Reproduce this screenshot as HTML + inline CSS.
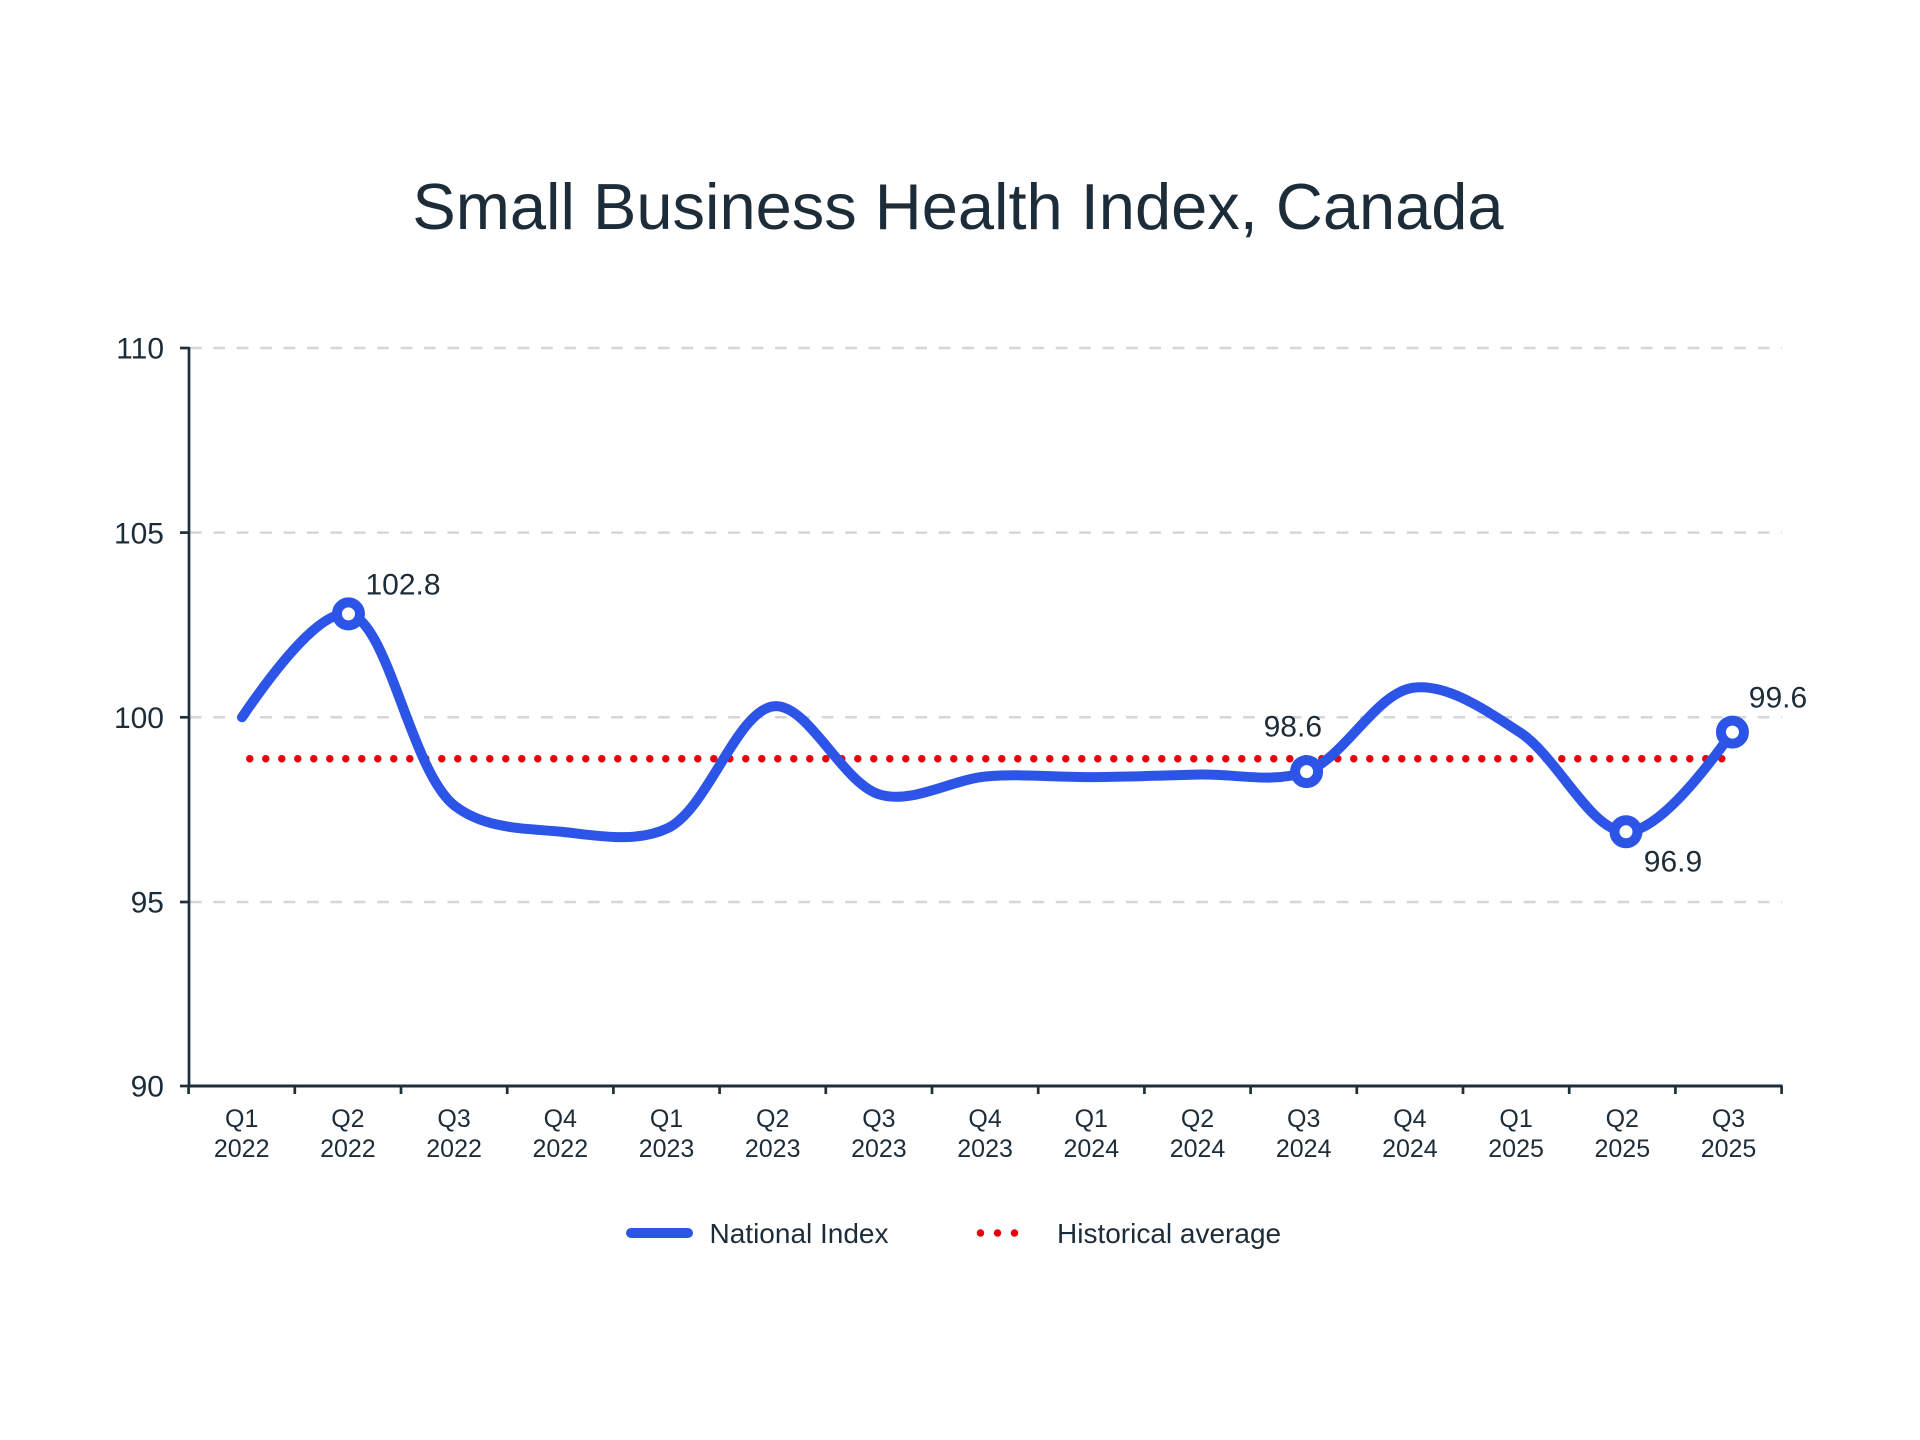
<!DOCTYPE html>
<html><head><meta charset="utf-8"><style>
html,body{margin:0;padding:0;background:#fff;}
svg{display:block;}
text{font-family:"Liberation Sans",Arial,sans-serif;fill:#1d2c39;}
</style></head><body>
<svg width="1920" height="1440" viewBox="0 0 1920 1440" xmlns="http://www.w3.org/2000/svg">
<rect width="1920" height="1440" fill="#fff"/>
<text x="958" y="229" font-size="65" text-anchor="middle">Small Business Health Index, Canada</text>

<!-- gridlines -->
<g stroke="#d6d6d6" stroke-width="2.5" stroke-dasharray="11.7 11.7">
<line x1="190" y1="348" x2="1782" y2="348"/>
<line x1="190" y1="532.6" x2="1782" y2="532.6"/>
<line x1="190" y1="717.3" x2="1782" y2="717.3"/>
<line x1="190" y1="902" x2="1782" y2="902"/>
</g>

<!-- axes -->
<g stroke="#1f2f3a" stroke-width="2.7">
<line x1="189" y1="347" x2="189" y2="1087"/>
<line x1="187.6" y1="1086" x2="1782.6" y2="1086" stroke-width="3"/>
<line x1="180" y1="348" x2="189" y2="348"/>
<line x1="180" y1="532.6" x2="189" y2="532.6"/>
<line x1="180" y1="717.3" x2="189" y2="717.3"/>
<line x1="180" y1="902" x2="189" y2="902"/>
<line x1="180" y1="1086" x2="189" y2="1086"/>
<line x1="188.6" y1="1086" x2="188.6" y2="1094"/>
<line x1="294.8" y1="1086" x2="294.8" y2="1094"/>
<line x1="401" y1="1086" x2="401" y2="1094"/>
<line x1="507.2" y1="1086" x2="507.2" y2="1094"/>
<line x1="613.4" y1="1086" x2="613.4" y2="1094"/>
<line x1="719.6" y1="1086" x2="719.6" y2="1094"/>
<line x1="825.8" y1="1086" x2="825.8" y2="1094"/>
<line x1="932" y1="1086" x2="932" y2="1094"/>
<line x1="1038.2" y1="1086" x2="1038.2" y2="1094"/>
<line x1="1144.4" y1="1086" x2="1144.4" y2="1094"/>
<line x1="1250.6" y1="1086" x2="1250.6" y2="1094"/>
<line x1="1356.8" y1="1086" x2="1356.8" y2="1094"/>
<line x1="1463" y1="1086" x2="1463" y2="1094"/>
<line x1="1569.2" y1="1086" x2="1569.2" y2="1094"/>
<line x1="1675.4" y1="1086" x2="1675.4" y2="1094"/>
<line x1="1781.6" y1="1086" x2="1781.6" y2="1094"/>
</g>

<!-- y labels -->
<g font-size="30" text-anchor="end">
<text x="164" y="358.7">110</text>
<text x="164" y="543.3">105</text>
<text x="164" y="728">100</text>
<text x="164" y="912.7">95</text>
<text x="164" y="1096.7">90</text>
</g>

<!-- x labels -->
<g font-size="25" text-anchor="middle">
<text x="241.7" y="1127">Q1</text><text x="241.7" y="1157">2022</text>
<text x="347.9" y="1127">Q2</text><text x="347.9" y="1157">2022</text>
<text x="454.1" y="1127">Q3</text><text x="454.1" y="1157">2022</text>
<text x="560.3" y="1127">Q4</text><text x="560.3" y="1157">2022</text>
<text x="666.5" y="1127">Q1</text><text x="666.5" y="1157">2023</text>
<text x="772.7" y="1127">Q2</text><text x="772.7" y="1157">2023</text>
<text x="878.9" y="1127">Q3</text><text x="878.9" y="1157">2023</text>
<text x="985.1" y="1127">Q4</text><text x="985.1" y="1157">2023</text>
<text x="1091.3" y="1127">Q1</text><text x="1091.3" y="1157">2024</text>
<text x="1197.5" y="1127">Q2</text><text x="1197.5" y="1157">2024</text>
<text x="1303.7" y="1127">Q3</text><text x="1303.7" y="1157">2024</text>
<text x="1409.9" y="1127">Q4</text><text x="1409.9" y="1157">2024</text>
<text x="1516.1" y="1127">Q1</text><text x="1516.1" y="1157">2025</text>
<text x="1622.3" y="1127">Q2</text><text x="1622.3" y="1157">2025</text>
<text x="1728.5" y="1127">Q3</text><text x="1728.5" y="1157">2025</text>
</g>

<!-- historical average -->
<line x1="249.8" y1="758.7" x2="1722" y2="758.7" stroke="#e8000b" stroke-width="7.5" stroke-linecap="round" stroke-dasharray="0 16"/>

<!-- national index -->
<path id="ln" fill="none" stroke="#2c55e8" stroke-width="10" stroke-linecap="round" stroke-linejoin="round"
d="M242,717.3 L348.46,613.9 L454.92,805.9 L561.38,831.8 L667.84,828.1 L774.3,706.2 L880.76,794.9 L987.22,776.4 L1093.68,777.5 L1200.14,774.2 L1306.6,771.6 L1413.06,687.8 L1519.52,732.1 L1625.98,831.8 L1732.44,732.1"/>

<g fill="#fff" stroke="#2c55e8" stroke-width="10">
<circle cx="348.46" cy="613.9" r="11.5"/>
<circle cx="1306.6" cy="771.6" r="11.5"/>
<circle cx="1625.98" cy="831.8" r="11.5"/>
<circle cx="1732.44" cy="732.1" r="11.5"/>
</g>

<g font-size="30">
<text x="365.5" y="594.7">102.8</text>
<text x="1322" y="736.7" text-anchor="end">98.6</text>
<text x="1643.8" y="871.7">96.9</text>
<text x="1748.8" y="707.4">99.6</text>
</g>

<!-- legend -->
<line x1="631" y1="1233" x2="688" y2="1233" stroke="#2c55e8" stroke-width="10" stroke-linecap="round"/>
<text x="709.5" y="1243" font-size="28">National Index</text>
<line x1="980.5" y1="1233" x2="1031.5" y2="1233" stroke="#e8000b" stroke-width="7.5" stroke-linecap="round" stroke-dasharray="0 17"/>
<text x="1057" y="1243" font-size="28">Historical average</text>
</svg>
<script>
(function(){
var vals=[100.0,102.8,97.6,96.9,97.0,100.3,97.9,98.4,98.38,98.45,98.53,100.8,99.6,96.9,99.6];
var pts=vals.map(function(v,i){return [242+106.46*i,717.3-(v-100)*36.93];});
function tan(p,t,n){
  var d1x=p[0]-t[0],d1y=p[1]-t[1],d2x=n[0]-t[0],d2y=n[1]-t[1];
  var d1a=Math.pow(d1x*d1x+d1y*d1y,0.25),d2a=Math.pow(d2x*d2x+d2y*d2y,0.25);
  var nx=(d2a*d2a*d1x-d1a*d1a*d2x),ny=(d2a*d2a*d1y-d1a*d1a*d2y);
  var e1=3*d2a*(d1a+d2a),e2=3*d1a*(d1a+d2a);
  return [[t[0]+(e1&&nx/e1),t[1]+(e1&&ny/e1)],[t[0]-(e2&&nx/e2),t[1]-(e2&&ny/e2)]];
}
var T=[],i;
for(i=1;i<pts.length-1;i++)T.push(tan(pts[i-1],pts[i],pts[i+1]));
function f(p){return p[0].toFixed(2)+','+p[1].toFixed(2);}
var d='M'+f(pts[0])+'Q'+f(T[0][0])+' '+f(pts[1]);
for(i=2;i<pts.length-1;i++)d+='C'+f(T[i-2][1])+' '+f(T[i-1][0])+' '+f(pts[i]);
d+='Q'+f(T[pts.length-3][1])+' '+f(pts[pts.length-1]);
document.getElementById('ln').setAttribute('d',d);
})();
</script>
</body></html>
